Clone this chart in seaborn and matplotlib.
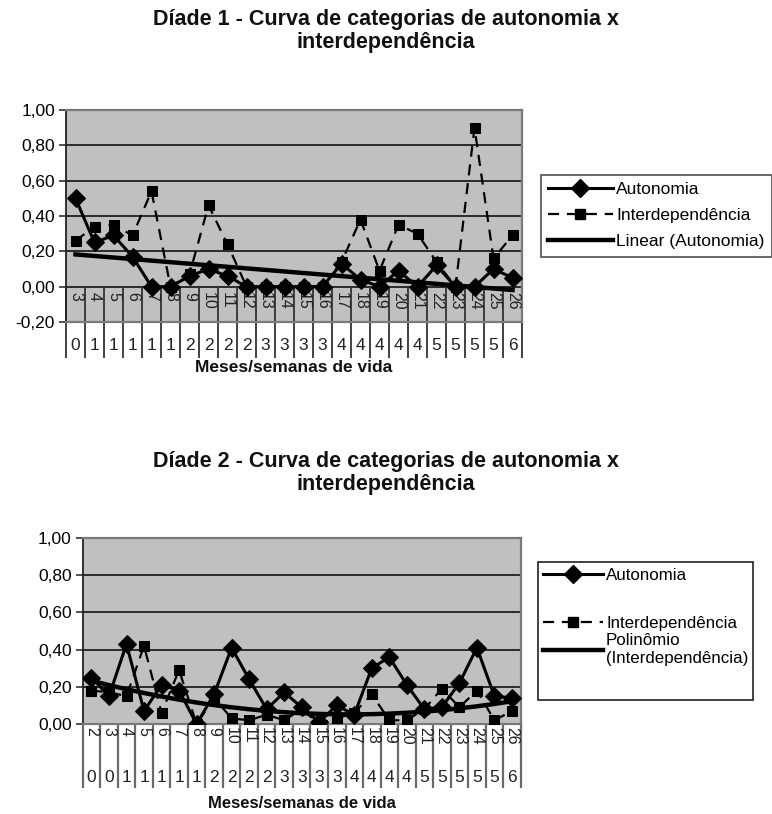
import numpy as np
import pandas as pd
import matplotlib
matplotlib.use("Agg")
import matplotlib.pyplot as plt
import matplotlib.transforms as mtransforms
from matplotlib.lines import Line2D
from matplotlib.patches import Rectangle
import seaborn as sns

plt.rcParams["font.family"] = ["Liberation Sans", "DejaVu Sans"]

# ---------------- data: Díade 1 ----------------
weeks1 = ["3", "4", "5", "6", "7", "8", "9", "10", "11", "12", "13", "14",
          "15", "16", "17", "18", "19", "20", "21", "22", "23", "24", "25", "26"]
months1 = ["0", "1", "1", "1", "1", "1", "2", "2", "2", "2", "3", "3",
           "3", "3", "4", "4", "4", "4", "4", "5", "5", "5", "5", "6"]
autonomia1 = [0.50, 0.25, 0.29, 0.17, 0.00, 0.00, 0.06, 0.10, 0.06, 0.00, 0.00, 0.00,
              0.00, 0.00, 0.13, 0.04, 0.00, 0.09, 0.00, 0.12, 0.00, 0.00, 0.10, 0.05]
interdep1 = [0.26, 0.34, 0.35, 0.29, 0.54, 0.00, 0.07, 0.46, 0.24, 0.00, 0.00, 0.00,
             0.00, 0.00, 0.14, 0.38, 0.09, 0.35, 0.30, 0.14, 0.00, 0.90, 0.16, 0.29]

# ---------------- data: Díade 2 ----------------
weeks2 = ["2", "3", "4", "5", "6", "7", "8", "9", "10", "11", "12", "13", "14",
          "15", "16", "17", "18", "19", "20", "21", "22", "23", "24", "25", "26"]
months2 = ["0", "0", "1", "1", "1", "1", "1", "2", "2", "2", "2", "3", "3",
           "3", "3", "4", "4", "4", "4", "5", "5", "5", "5", "5", "6"]
autonomia2 = [0.25, 0.15, 0.43, 0.07, 0.21, 0.18, 0.00, 0.16, 0.41, 0.24, 0.08, 0.17, 0.09,
              0.01, 0.10, 0.05, 0.30, 0.36, 0.21, 0.08, 0.09, 0.22, 0.41, 0.15, 0.14]
interdep2 = [0.18, 0.17, 0.15, 0.42, 0.06, 0.29, 0.00, 0.14, 0.03, 0.02, 0.05, 0.02, 0.08,
             0.00, 0.03, 0.06, 0.16, 0.02, 0.02, 0.08, 0.19, 0.09, 0.18, 0.02, 0.07]

yticks1 = [-0.20, 0.00, 0.20, 0.40, 0.60, 0.80, 1.00]
yticks2 = [0.00, 0.20, 0.40, 0.60, 0.80, 1.00]

titles = ["Díade 1 - Curva de categorias de autonomia x\ninterdependência",
          "Díade 2 - Curva de categorias de autonomia x\ninterdependência"]
xlabel = "Meses/semanas de vida"
legend1 = ["Autonomia", "Interdependência", "Linear (Autonomia)"]
legend2 = ["Autonomia", "Interdependência", "Polinômio\n(Interdependência)"]

W, H = 772, 814
fig = plt.figure(figsize=(W / 100, H / 100), dpi=100)
fig.patch.set_facecolor("white")


def fx(px):
    return px / W


def fy(py):
    return 1 - py / H


def fmt(v):
    return f"{v:.2f}".replace(".", ",")


GRAY = "#c0c0c0"
DASH = (0, (5, 3.5))


def base_axes(rect, yticks, ylim, n):
    ax = fig.add_axes(rect)
    ax.set_facecolor(GRAY)
    ax.set_xlim(-0.5, n - 0.5)
    ax.set_ylim(*ylim)
    ax.set_yticks(yticks)
    ax.set_yticklabels([fmt(v) for v in yticks])
    ax.set_xticks([])
    ax.tick_params(axis="y", direction="out", length=5, width=1.2,
                   color="#333333", labelsize=12.5, pad=3)
    ax.yaxis.grid(True, color="#2a2a2a", lw=1.4)
    ax.set_axisbelow(True)
    for side, sp in ax.spines.items():
        sp.set_color("#7a7a7a")
        sp.set_linewidth(1.6)
    ax.spines["left"].set_color("#222222")
    ax.spines["left"].set_linewidth(1.3)
    return ax


def draw_series(ax, x, auto, inter):
    sns.lineplot(x=x, y=inter, ax=ax, color="black", lw=1.6, linestyle=DASH,
                 marker="s", markersize=6.5, markeredgecolor="black", zorder=3)
    sns.lineplot(x=x, y=auto, ax=ax, color="black", lw=2.2,
                 marker="D", markersize=9, markeredgecolor="black", zorder=4)


# ================= Chart 1 =================
n1 = len(weeks1)
x1 = np.arange(n1)
ax1 = base_axes([fx(66), fy(322), fx(522) - fx(66), fy(110) - fy(322)],
                yticks1, (-0.20, 1.00), n1)
draw_series(ax1, x1, autonomia1, interdep1)
coef1 = np.polyfit(x1, autonomia1, 1)
trend1 = np.polyval(coef1, x1)
sns.lineplot(x=x1, y=trend1, ax=ax1, color="black", lw=3.2, zorder=5)
if ax1.get_legend():
    ax1.get_legend().remove()

tr1 = mtransforms.blended_transform_factory(ax1.transData, ax1.transAxes)
y0_frac = (0 - (-0.2)) / 1.2
sep_bottom1 = -36 / 212
ax1.vlines(np.arange(n1 + 1) - 0.5, sep_bottom1, y0_frac, transform=tr1,
           colors="#333333", lw=1.3, clip_on=False, zorder=2)
for i, w in enumerate(weeks1):
    ax1.text(i, y0_frac - 5 / 212, w, transform=tr1, rotation=270, ha="center",
             va="top", fontsize=11.5, color="#222222")
for i, m in enumerate(months1):
    ax1.text(i, -24 / 212, m, transform=tr1, ha="center", va="center",
             fontsize=12.5, color="#222222")
ax1.text(0.5, -46 / 212, xlabel, transform=ax1.transAxes, ha="center",
         va="center", fontsize=12.5, fontweight="bold", color="#111111")

fig.text(0.5, fy(31), titles[0], ha="center", va="center", fontsize=15.5,
         fontweight="bold", color="#111111", linespacing=1.1)

h_auto = Line2D([], [], color="black", lw=2.2, marker="D", markersize=9)
h_inter = Line2D([], [], color="black", lw=1.6, linestyle=DASH, marker="s",
                 markersize=6.5)
h_trend = Line2D([], [], color="black", lw=3.2)
leg1 = fig.legend([h_auto, h_inter, h_trend], legend1, loc="upper left",
                  bbox_to_anchor=(fx(541), fy(175)), borderaxespad=0,
                  frameon=True, fancybox=False, edgecolor="#222222",
                  fontsize=12.5, handlelength=3.7, handletextpad=0.2,
                  labelspacing=0.62, borderpad=0.42)
leg1.get_frame().set_linewidth(1.2)

# ================= Chart 2 =================
n2 = len(weeks2)
x2 = np.arange(n2)
ax2 = base_axes([fx(82.7), fy(724), fx(520.7) - fx(82.7), fy(538) - fy(724)],
                yticks2, (0.0, 1.0), n2)
draw_series(ax2, x2, autonomia2, interdep2)
coef2 = np.polyfit(x2, interdep2, 2)
trend2 = np.polyval(coef2, x2)
sns.lineplot(x=x2, y=trend2, ax=ax2, color="black", lw=3.2, zorder=5)
if ax2.get_legend():
    ax2.get_legend().remove()

tr2 = mtransforms.blended_transform_factory(ax2.transData, ax2.transAxes)
ax2.vlines(np.arange(n2 + 1) - 0.5, -64 / 186, 0, transform=tr2,
           colors="#6a6a6a", lw=1.6, clip_on=False, zorder=2)
for i, w in enumerate(weeks2):
    ax2.text(i, -3 / 186, w, transform=tr2, rotation=270, ha="center",
             va="top", fontsize=11.5, color="#222222")
for i, m in enumerate(months2):
    ax2.text(i, -53 / 186, m, transform=tr2, ha="center", va="center",
             fontsize=12.5, color="#222222")
ax2.text(0.5, -80 / 186, xlabel, transform=ax2.transAxes, ha="center",
         va="center", fontsize=12, fontweight="bold", color="#111111")

fig.text(0.5, fy(473), titles[1], ha="center", va="center", fontsize=15.5,
         fontweight="bold", color="#111111", linespacing=1.1)

# legend 2: framed box with uneven spacing
fig.add_artist(Rectangle((fx(538), fy(700)), fx(753) - fx(538), fy(562) - fy(700),
                         transform=fig.transFigure, fill=False,
                         edgecolor="#222222", lw=1.2))
fig.legend([h_auto, h_inter], legend2[:2], loc="upper left",
           bbox_to_anchor=(fx(540), fy(565)), borderaxespad=0, frameon=False,
           fontsize=12.2, handlelength=3.5, handletextpad=0.2,
           labelspacing=1.9, borderpad=0.2)
fig.legend([h_trend], legend2[2:], loc="upper left",
           bbox_to_anchor=(fx(540), fy(630)), borderaxespad=0, frameon=False,
           fontsize=12.2, handlelength=3.5, handletextpad=0.2,
           borderpad=0.2)

fig.savefig("out.png", dpi=100, facecolor="white")
